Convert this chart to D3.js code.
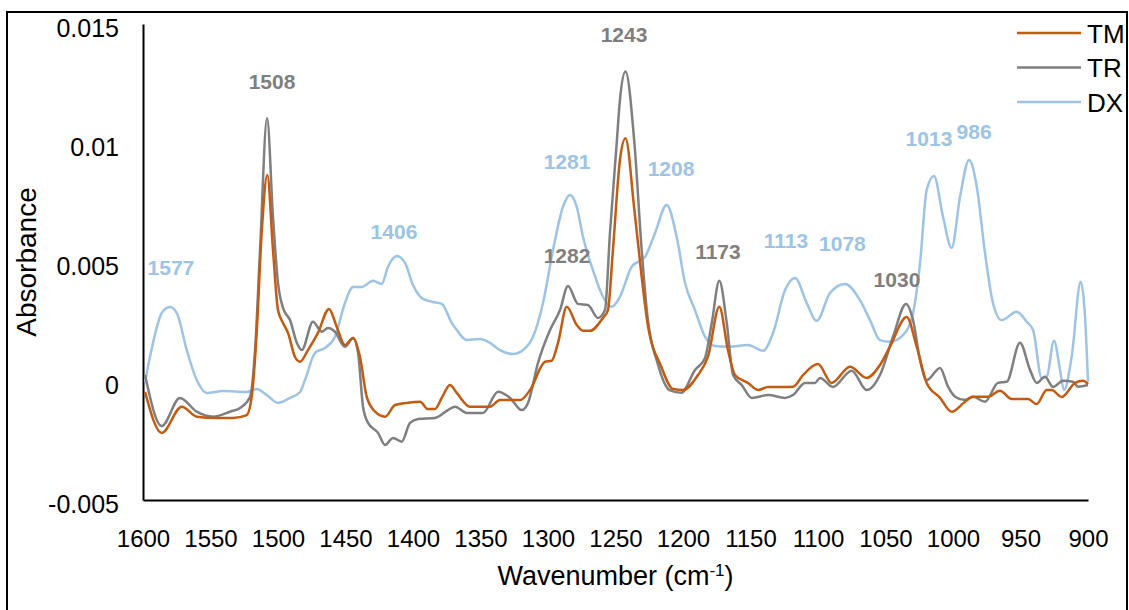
<!DOCTYPE html>
<html>
<head>
<meta charset="utf-8">
<script src="https://cdn.jsdelivr.net/npm/d3@7"></script>
<style>
  body { margin: 0; background: #fff; }
  svg { display: block; font-family: "Liberation Sans", Arial, sans-serif; }
</style>
</head>
<body>
<div id="chart"></div>
<script>
// Series (wavenumber in cm-1, absorbance)
var seriesNames = ["TM", "TR", "DX"];
var seriesColors = ["#C55A11", "#7F7F7F", "#9DC3E6"];

var tmWave = [1598.5,1586.1,1571.3,1560.2,1545.4,1533.3,1523.2,1519.5,1515.8,1512.1,1507.9,1503.7,1500,1496.3,1492.6,1487.4,1483.7,1477.8,1470.4,1462.2,1456.5,1450.4,1444.4,1439.3,1434.3,1428.1,1420.7,1413.3,1403.7,1394.8,1388.9,1383.7,1378.7,1372.6,1367.6,1357.8,1343,1335.6,1320.7,1313.3,1302.2,1297.3,1292.6,1286.1,1278.7,1274.1,1268.9,1259.3,1255.6,1251.9,1246.7,1242.6,1236,1230.6,1226.3,1216.1,1207.4,1200,1188.9,1181.5,1173.1,1166.7,1161.5,1151.9,1144.4,1137,1124.4,1118.5,1111.1,1100,1089.9,1076.3,1063.9,1054.1,1046.7,1034.3,1026.9,1019.5,1009.6,1001,991.1,985.2,974.1,965.2,956.5,944.4,938,930.6,926.9,919.5,909.6,903.7,900];
var tmAbs = [-0.00046,-0.00218,-0.00108,-0.0015,-0.00155,-0.00155,-0.00143,-0.00067,0.00202,0.00622,0.00866,0.0055,0.00298,0.00244,0.00202,0.00101,0.00081,0.0013,0.00202,0.00303,0.00228,0.00151,0.00181,0.00102,-0.00066,-0.00129,-0.0015,-0.00101,-0.00091,-0.00087,-0.00118,-0.00118,-0.00071,-0.00017,-0.0005,-0.00108,-0.00108,-0.0008,-0.0008,-0.00038,0.00081,0.00085,0.0016,0.00312,0.00235,0.00211,0.00211,0.00265,0.00298,0.0055,0.00929,0.0102,0.00718,0.00438,0.00244,0.0006,-0.00034,-0.00038,0.00025,0.00102,0.00312,0.0013,0.00025,-0.00008,-0.00038,-0.00025,-0.00025,-0.00024,0.00025,0.00071,-0.00008,0.0006,0.00013,0.00067,0.00144,0.00269,0.00144,-0.00008,-0.00071,-0.00129,-0.00087,-0.00066,-0.00066,-0.00041,-0.00076,-0.00076,-0.00097,-0.00038,-0.00038,-0.00067,-0.00008,0.00001,-0.00013];

var trWave = [1598.5,1586.1,1572.6,1560.2,1548.1,1535.6,1528.1,1520.7,1517,1513.3,1508.1,1503.7,1500,1496.3,1491.1,1486,1482.4,1474.1,1467.6,1463,1457.8,1450.4,1444.4,1440.7,1437,1433.3,1425.9,1420.7,1414.8,1408.4,1402.2,1396.3,1383.7,1374.1,1368.9,1360.2,1348.1,1337,1328.1,1319.5,1314.8,1307.4,1298.5,1291.1,1285.2,1277.8,1270.4,1263,1257.8,1254.1,1249.1,1246.7,1242.6,1236,1230.6,1226.3,1218.9,1210,1201.3,1191.1,1183.7,1178.7,1173.1,1167.6,1162.9,1156.5,1149.1,1136.7,1124.4,1118.5,1109.6,1102.2,1098.5,1088.9,1075.1,1063.9,1054.1,1044.4,1034.8,1029.6,1024.4,1019.5,1009.6,1003.7,998.5,991.1,985.2,976.3,966.7,960.2,950.4,942.9,938,931.9,925.9,918.5,911.1,907.4,900];
var trAbs = [0.00025,-0.00189,-0.00071,-0.00129,-0.0015,-0.00129,-0.00113,-0.00067,0.0013,0.0055,0.01104,0.00689,0.00412,0.00307,0.00256,0.0016,0.0013,0.00249,0.00207,0.00223,0.00207,0.00144,0.00181,0.00118,-0.00108,-0.00176,-0.00218,-0.00269,-0.00239,-0.00255,-0.00176,-0.0016,-0.00155,-0.00122,-0.00108,-0.00134,-0.00134,-0.00045,-0.00071,-0.00122,-0.00092,0.00076,0.00214,0.00298,0.00399,0.00324,0.00319,0.00265,0.00298,0.00622,0.01,0.01181,0.013,0.01,0.0055,0.0027,0.00076,-0.00038,-0.00049,0.00046,0.00097,0.00244,0.00421,0.00244,0.00025,-0.00017,-0.00071,-0.00059,-0.00071,-0.00059,-0.00008,-0.00008,0.00013,-0.00025,0.00043,-0.00038,0.00025,0.00186,0.00324,0.00256,0.00088,0.00004,0.00055,-0.00024,-0.00066,-0.0008,-0.00066,-0.00087,-0.00008,-0.00003,0.00161,0.00046,-0.00008,0.00018,-0.00025,0.00001,-0.00003,-0.00024,-0.00017];

var dxWave = [1598.5,1592.6,1586.1,1580,1575,1567.6,1560.2,1552.8,1540.7,1523.2,1515.8,1508.4,1500,1491.1,1483.7,1480,1472.6,1465.2,1457.8,1450.4,1444.4,1438,1429.6,1423.2,1418.5,1412.1,1405.9,1400,1393.6,1386.1,1378.7,1371.3,1367.6,1360.2,1350.4,1343,1335.6,1325.9,1318.5,1311.1,1303.7,1296.3,1288.9,1283.7,1278.7,1274.1,1266.7,1259.3,1252.8,1246.7,1238,1228.1,1220.7,1212.1,1204.7,1198.5,1191.1,1183.7,1176.3,1166.7,1151.9,1140.7,1133.3,1124.4,1117,1108.4,1101,1091.1,1080,1068.9,1061.5,1054.1,1046.7,1037,1029.6,1024.4,1019.5,1014.1,1007.4,1001,994.8,988.1,982.4,976.3,970.4,963.9,952.8,945.4,940.7,934.3,930.6,925.2,920.7,917.8,912.1,905.4,902.2,900];
var dxAbs = [-0.00004,0.0016,0.00286,0.00311,0.00286,0.0013,0.00004,-0.0005,-0.00042,-0.00046,-0.00034,-0.00059,-0.00092,-0.00071,-0.00046,0.00004,0.00118,0.00139,0.00186,0.00328,0.00395,0.00395,0.00421,0.00408,0.0048,0.00525,0.00496,0.00403,0.00349,0.00333,0.00324,0.00244,0.00214,0.00172,0.00176,0.0016,0.0013,0.00113,0.0013,0.00186,0.00328,0.0055,0.00732,0.00782,0.00732,0.00606,0.00466,0.00354,0.00312,0.00354,0.0048,0.00522,0.00622,0.0074,0.00606,0.00412,0.00298,0.00186,0.00147,0.00144,0.00151,0.00127,0.00202,0.00382,0.00433,0.00328,0.00253,0.0037,0.00408,0.0034,0.00256,0.00172,0.00165,0.00193,0.00286,0.00496,0.00803,0.00861,0.0069,0.00559,0.00774,0.00929,0.00816,0.00538,0.00328,0.00256,0.00291,0.00249,0.00214,0.00013,0.00018,0.00169,0.00046,-0.00038,0.00102,0.00417,0.0027,-0.00003];

// Peak annotations (text, series index, wavenumber, absorbance of label baseline)
var peakText = ["1577","1508","1406","1281","1282","1243","1208","1173","1113","1078","1030","1013","986"];
var peakSeries = [2,1,2,2,1,1,2,1,2,2,1,2,2];
var peakWave = [1579.3,1504.4,1414.1,1285.9,1285.9,1243.7,1208.9,1174.1,1123.7,1081.9,1041.5,1017.8,984.4];
var peakAbs = [0.00445,0.01227,0.00597,0.00891,0.00496,0.01424,0.00861,0.00513,0.00559,0.00546,0.00395,0.00987,0.01017];

// Axis ticks
var xTicks = [1600,1550,1500,1450,1400,1350,1300,1250,1200,1150,1100,1050,1000,950,900];
var yTicks = [0.015,0.01,0.005,0,-0.005];
var yTickLabels = ["0.015","0.01","0.005","0","-0.005"];

var W = 1129, H = 610;
var plot = {left: 143, right: 1088, top: 24, bottom: 500};

var svg = d3.select("#chart").append("svg")
    .attr("width", W)
    .attr("height", H);

var x = d3.scaleLinear().domain([1600, 900]).range([plot.left, plot.right]);
var y = d3.scaleLinear().domain([-0.005, 0.015]).range([plot.bottom, plot.top]);

// Axes
var xAxis = d3.axisBottom(x).tickValues(xTicks).tickSize(0).tickSizeOuter(0).tickPadding(30)
    .tickFormat(function(d) { return d; });
var gx = svg.append("g")
    .attr("transform", "translate(0," + plot.bottom + ")")
    .call(xAxis);
gx.select(".domain").attr("stroke", "#000").attr("stroke-width", 2);
gx.selectAll("text").attr("font-size", "24px").attr("fill", "#000")
    .attr("font-family", "Liberation Sans, Arial, sans-serif");

var yAxis = d3.axisLeft(y).tickValues(yTicks).tickSize(0).tickSizeOuter(0).tickPadding(24)
    .tickFormat(function(d, i) { return yTickLabels[i]; });
var gy = svg.append("g")
    .attr("transform", "translate(" + plot.left + ",0)")
    .call(yAxis);
gy.select(".domain").attr("stroke", "#000").attr("stroke-width", 2);
gy.selectAll("text").attr("font-size", "25px").attr("fill", "#000").attr("dy", "0.5em")
    .attr("font-family", "Liberation Sans, Arial, sans-serif");

// Axis titles
var xt = svg.append("text")
    .attr("x", (plot.left + plot.right) / 2)
    .attr("y", 585)
    .attr("text-anchor", "middle")
    .style("font-size", "27px")
    .text("Wavenumber (cm");
xt.append("tspan").attr("baseline-shift", "super").style("font-size", "17px").text("-1");
xt.append("tspan").text(")");

svg.append("text")
    .attr("transform", "translate(36," + ((plot.top + plot.bottom) / 2) + ") rotate(-90)")
    .attr("text-anchor", "middle")
    .style("font-size", "28px")
    .text("Absorbance");

// Lines
var waves = [tmWave, trWave, dxWave];
var abss = [tmAbs, trAbs, dxAbs];
var line = d3.line()
    .x(function(d) { return x(d[0]); })
    .y(function(d) { return y(d[1]); })
    .curve(d3.curveMonotoneX);

var drawOrder = [2, 1, 0];
drawOrder.forEach(function(s) {
  var pts = waves[s].map(function(w, i) { return [w, abss[s][i]]; });
  svg.append("path")
    .datum(pts)
    .attr("fill", "none")
    .attr("stroke", seriesColors[s])
    .attr("stroke-width", 2.5)
    .attr("stroke-linejoin", "round")
    .attr("d", line);
});

// Peak labels
svg.selectAll(".peak")
  .data(peakText)
  .enter()
  .append("text")
  .attr("class", "peak")
  .attr("x", function(d, i) { return x(peakWave[i]); })
  .attr("y", function(d, i) { return y(peakAbs[i]); })
  .attr("text-anchor", "middle")
  .style("font-size", "21px")
  .style("font-weight", "bold")
  .attr("fill", function(d, i) { return seriesColors[peakSeries[i]]; })
  .text(function(d) { return d; });

// Legend
var legend = svg.append("g").attr("clip-path", "url(#clipframe)");
svg.append("clipPath").attr("id", "clipframe")
  .append("rect").attr("x", 0).attr("y", 0).attr("width", 1126).attr("height", H);

seriesNames.forEach(function(name, i) {
  var ly = 33 + i * 34.5;
  legend.append("line")
    .attr("x1", 1017).attr("x2", 1081)
    .attr("y1", ly).attr("y2", ly)
    .attr("stroke", seriesColors[i])
    .attr("stroke-width", 2.5);
  legend.append("text")
    .attr("x", 1087)
    .attr("y", ly + 9.5)
    .style("font-size", "26px")
    .text(name);
});

// Outer frame
svg.append("rect")
  .attr("x", 7).attr("y", 12)
  .attr("width", 1120).attr("height", 620)
  .attr("fill", "none")
  .attr("stroke", "#000")
  .attr("stroke-width", 2);
</script>
</body>
</html>
